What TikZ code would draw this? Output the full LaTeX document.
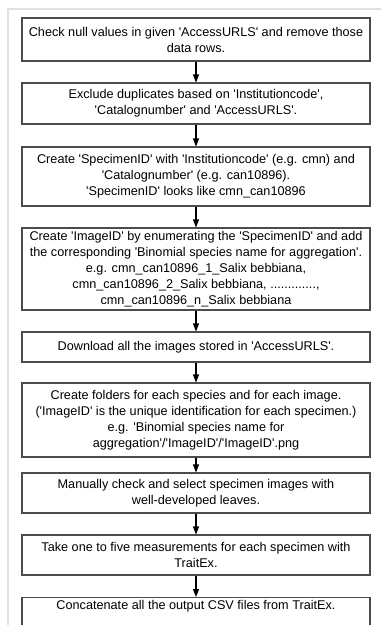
\documentclass[tikz,border=0pt]{standalone}
\usepackage{fontspec}
\setmainfont{Liberation Sans}[Ligatures=TeXOff]
\usetikzlibrary{arrows.meta}
\begin{document}
\begin{tikzpicture}[x=0.75pt,y=-0.75pt,
  stepbox/.style={draw=black!70, line width=0.8pt, fill=white, minimum width=261pt,
    align=center, inner sep=0pt, font=\fontsize{9.5}{12}\selectfont},
  flow/.style={draw=black, line width=0.8pt, -{Triangle[length=6pt,width=4.5pt]}},
  frame/.style={draw=black!12, line width=1.2pt}]
\useasboundingbox (0,0) rectangle (381,625);
\clip (0,0) rectangle (381,625);
\fill[white] (0,0) rectangle (381,625);
\draw[frame] (8,625) -- (8,9) -- (381,9);
\node[stepbox, minimum height=32.25pt] (b1) at (196,39.5) {Check null values in given 'AccessURLS' and remove those\\data rows.};
\node[stepbox, minimum height=30.75pt] (b2) at (196,103.5) {Exclude duplicates based on 'Institutioncode',\\'Catalognumber' and 'AccessURLS'.};
\node[stepbox, minimum height=44.25pt] (b3) at (196,176.5) {Create 'SpecimenID' with 'Institutioncode' (e.g. cmn) and\\'Catalognumber' (e.g. can10896).\\'SpecimenID' looks like cmn\_can10896};
\node[stepbox, minimum height=61.5pt] (b4) at (196,269) {Create 'ImageID' by enumerating the 'SpecimenID' and add\\the corresponding 'Binomial species name for aggregation'.\\e.g. cmn\_can10896\_1\_Salix bebbiana,\\cmn\_can10896\_2\_Salix bebbiana, .............,\\cmn\_can10896\_n\_Salix bebbiana};
\node[stepbox, minimum height=22.5pt] (b5) at (196,347) {Download all the images stored in 'AccessURLS'.};
\node[stepbox, minimum height=55.5pt] (b6) at (196,420) {Create folders for each species and for each image.\\('ImageID' is the unique identification for each specimen.)\\e.g. 'Binomial species name for\\aggregation'/'ImageID'/'ImageID'.png};
\node[stepbox, minimum height=30pt] (b7) at (196,493) {Manually check and select specimen images with\\well-developed leaves.};
\node[stepbox, minimum height=30pt] (b8) at (196,555) {Take one to five measurements for each specimen with\\TraitEx.};
\node[stepbox, minimum height=30pt, anchor=north] (b9) at (196,597) {\raisebox{0pt}[0pt][0pt]{\raisebox{6pt}{Concatenate all the output CSV files from TraitEx.}}};
\draw[flow] (b1) -- (b2);
\draw[flow] (b2) -- (b3);
\draw[flow] (b3) -- (b4);
\draw[flow] (b4) -- (b5);
\draw[flow] (b5) -- (b6);
\draw[flow] (b6) -- (b7);
\draw[flow] (b7) -- (b8);
\draw[flow] (b8) -- (b9);
\end{tikzpicture}
\end{document}
